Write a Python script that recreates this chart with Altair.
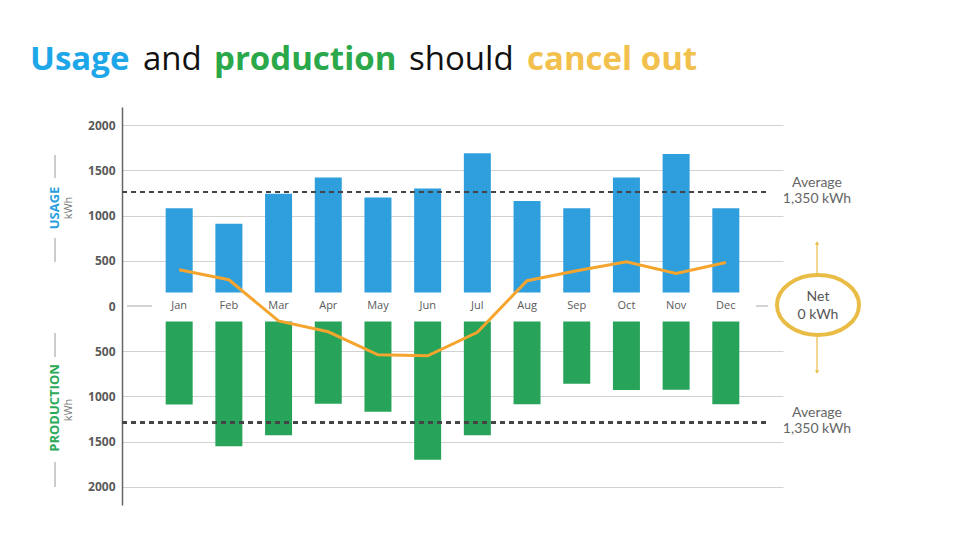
import altair as alt
import pandas as pd

months = ["Jan", "Feb", "Mar", "Apr", "May", "Jun", "Jul", "Aug", "Sep", "Oct", "Nov", "Dec"]
usage = [1080, 910, 1240, 1420, 1200, 1300, 1690, 1160, 1080, 1420, 1680, 1080]
production = [1090, 1550, 1430, 1080, 1170, 1700, 1430, 1085, 860, 930, 925, 1085]
net = [400, 290, -165, -285, -540, -550, -290, 280, 390, 490, 360, 480]
y_ticks = [-2000, -1500, -1000, -500, 0, 500, 1000, 1500, 2000]
usage_avg_line = 1260
production_avg_line = -1290
usage_base = 150
production_base = -170

df = pd.DataFrame({
    "idx": list(range(len(months))),
    "month": months,
    "usage": usage,
    "production": production,
    "net": net,
})

W, H = 661, 398
BLUE_BAR = "#2f9edc"
GREEN_BAR = "#27a35a"
ORANGE = "#f5a52e"
GOLD = "#e9bd45"
GRAY_TXT = "#5a5a5a"
FONT = "Open Sans"

x_scale = alt.Scale(domain=[-1.05, 12.05])
y_scale = alt.Scale(domain=[-2200, 2200], nice=False, zero=False)
X = alt.X("idx:Q", scale=x_scale, axis=None)

base = alt.Chart(df)

y_axis = alt.Axis(
    values=y_ticks,
    labelExpr="abs(datum.value)",
    title=None,
    ticks=False,
    labelPadding=7,
    labelFont=FONT,
    labelFontSize=12,
    labelFontWeight="bold",
    labelColor=GRAY_TXT,
    domainColor="#666666",
    domainWidth=1.5,
    grid=True,
    gridColor="#d2d2d2",
    gridWidth=1,
    gridOpacity={"condition": {"test": "datum.value === 0", "value": 0}, "value": 1},
)

usage_bars = base.mark_bar(size=27, color=BLUE_BAR).encode(
    x=X,
    y=alt.Y("usage:Q", scale=y_scale, axis=y_axis),
    y2=alt.datum(usage_base),
)

prod_bars = base.transform_calculate(neg="-datum.production").mark_bar(
    size=27, color=GREEN_BAR
).encode(
    x=X,
    y=alt.Y("neg:Q", scale=y_scale),
    y2=alt.datum(production_base),
)

zero_segments = alt.layer(
    base.mark_rule(color="#d2d2d2", strokeWidth=1).encode(
        y=alt.datum(0, scale=y_scale), x=alt.value(5), x2=alt.value(30)
    ),
    base.mark_rule(color="#d2d2d2", strokeWidth=1).encode(
        y=alt.datum(0, scale=y_scale), x=alt.value(634), x2=alt.value(646)
    ),
)

avg_lines = alt.layer(
    base.mark_rule(color="#444444", strokeWidth=2, strokeDash=[5, 4]).encode(
        y=alt.datum(usage_avg_line, scale=y_scale), x=alt.value(0), x2=alt.value(645)
    ),
    base.mark_rule(color="#444444", strokeWidth=2, strokeDash=[5, 4]).encode(
        y=alt.datum(production_avg_line, scale=y_scale), x=alt.value(0), x2=alt.value(645)
    ),
)

net_line = base.mark_line(color=ORANGE, strokeWidth=3).encode(
    x=X,
    y=alt.Y("net:Q", scale=y_scale),
)

month_labels = base.mark_text(
    font=FONT, fontSize=11, color=GRAY_TXT, baseline="middle", align="center"
).encode(
    x=X,
    y=alt.datum(0, scale=y_scale),
    text="month:N",
)


def txt(text, x, y, size=14, color=GRAY_TXT, weight="normal", align="center",
        baseline="middle", angle=0, font="Lato"):
    kw = dict(text=text, font=font, fontSize=size, color=color, fontWeight=weight,
              align=align, baseline=baseline)
    if angle:
        kw["angle"] = angle
    return alt.Chart(pd.DataFrame({"a": [0]})).mark_text(**kw).encode(
        x=alt.value(x), y=alt.value(y)
    )


def vline(x, y1, y2, color="#9a9a9a", width=1):
    return alt.Chart(pd.DataFrame({"a": [0]})).mark_rule(color=color, strokeWidth=width).encode(
        x=alt.value(x), y=alt.value(y1), y2=alt.value(y2)
    )


annotations = [
    txt("Average", 695, 76, color="#666666"),
    txt("1,350 kWh", 695, 92, color="#666666"),
    txt("Average", 695, 306, color="#666666"),
    txt("1,350 kWh", 695, 322, color="#666666"),
    txt("Net", 696, 190, color="#555555"),
    txt("0 kWh", 696, 208, color="#555555"),
    # left axis titles
    txt("USAGE", -67, 101, size=13, color="#2aa0e0", weight="bold", angle=270, font=FONT),
    txt("kWh", -53, 101, size=11, color="#7a7a7a", angle=270, font=FONT),
    txt("PRODUCTION", -67, 301, size=13, color="#2aa957", weight="bold", angle=270, font=FONT),
    txt("kWh", -53, 303, size=11, color="#7a7a7a", angle=270, font=FONT),
    vline(-67, 48, 71), vline(-67, 131, 155),
    vline(-67, 226, 250), vline(-67, 355, 380),
    # arrows
    vline(695, 168, 136, color=GOLD, width=1.2),
    vline(695, 230, 264, color=GOLD, width=1.2),
]

ry = 0.732
k = 0.5523
ell = (f"M1,0 C1,{k*ry:.4f} {k:.4f},{ry} 0,{ry} "
       f"C{-k:.4f},{ry} -1,{k*ry:.4f} -1,0 "
       f"C-1,{-k*ry:.4f} {-k:.4f},{-ry} 0,{-ry} "
       f"C{k:.4f},{-ry} 1,{-k*ry:.4f} 1,0 Z")
one = pd.DataFrame({"a": [0]})
ellipse = alt.Chart(one).mark_point(
    shape=ell, size=82 * 82, filled=False, stroke=GOLD, strokeWidth=4, opacity=1
).encode(x=alt.value(696), y=alt.value(198))
arrow_up = alt.Chart(one).mark_point(
    shape="triangle-up", size=18, filled=True, color=GOLD, opacity=1
).encode(x=alt.value(695), y=alt.value(136))
arrow_dn = alt.Chart(one).mark_point(
    shape="triangle-down", size=18, filled=True, color=GOLD, opacity=1
).encode(x=alt.value(695), y=alt.value(265))

# Title words
title_y = -37
TS = 33
title = [
    txt("Usage", -92, title_y, size=TS, color="#1ea7e8", weight="bold", align="left",
        baseline="alphabetic", font=FONT),
    txt("and", 21, title_y, size=TS, color="#111111", weight="normal", align="left",
        baseline="alphabetic", font=FONT),
    txt("production", 92, title_y, size=TS, color="#2aa84a", weight="bold", align="left",
        baseline="alphabetic", font=FONT),
    txt("should", 287, title_y, size=TS, color="#111111", weight="normal", align="left",
        baseline="alphabetic", font=FONT),
    txt("cancel out", 405, title_y, size=TS, color="#f2c04c", weight="bold", align="left",
        baseline="alphabetic", font=FONT),
]

chart = alt.layer(
    usage_bars, prod_bars, zero_segments, avg_lines, net_line, month_labels,
    *annotations, ellipse, arrow_up, arrow_dn, *title,
).properties(
    width=W, height=H,
    background="white",
    padding={"left": 122, "top": 107, "right": 177, "bottom": 35},
    autosize=alt.AutoSizeParams(type="none"),
).configure_view(stroke=None)

chart.save("out.html", embed_options={"renderer": "svg", "actions": False})
